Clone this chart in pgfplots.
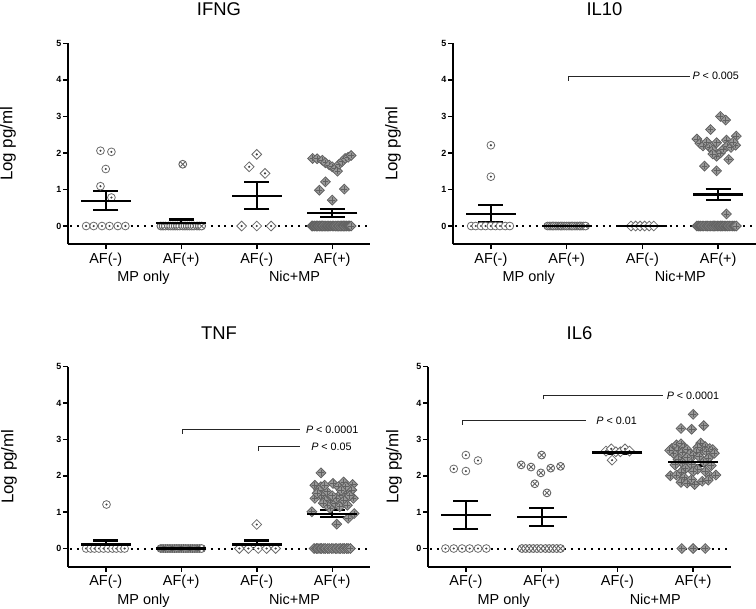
\documentclass[border=0pt]{standalone}
\usepackage{fontspec}
\setmainfont{Liberation Sans}
\usepackage{pgfplots}
\pgfplotsset{compat=1.18}

\definecolor{mk}{gray}{0.42}
\definecolor{mkfill}{gray}{0.6}
\definecolor{dotc}{gray}{0.25}

\pgfdeclareplotmark{cdot}{%
 \pgfpathcircle{\pgfpointorigin}{\pgfplotmarksize}\pgfusepathqfillstroke
 \begin{pgfscope}\pgfsetfillcolor{dotc}\pgfpathcircle{\pgfpointorigin}{0.3\pgfplotmarksize}\pgfusepathqfill\end{pgfscope}}
\pgfdeclareplotmark{cx}{%
 \pgfpathcircle{\pgfpointorigin}{\pgfplotmarksize}\pgfusepathqfillstroke
 \pgfpathmoveto{\pgfpoint{-0.6\pgfplotmarksize}{-0.6\pgfplotmarksize}}\pgfpathlineto{\pgfpoint{0.6\pgfplotmarksize}{0.6\pgfplotmarksize}}%
 \pgfpathmoveto{\pgfpoint{-0.6\pgfplotmarksize}{0.6\pgfplotmarksize}}\pgfpathlineto{\pgfpoint{0.6\pgfplotmarksize}{-0.6\pgfplotmarksize}}%
 \pgfusepathqstroke}
\pgfdeclareplotmark{ddot}{%
 \pgfpathmoveto{\pgfpoint{0pt}{\pgfplotmarksize}}\pgfpathlineto{\pgfpoint{\pgfplotmarksize}{0pt}}%
 \pgfpathlineto{\pgfpoint{0pt}{-\pgfplotmarksize}}\pgfpathlineto{\pgfpoint{-\pgfplotmarksize}{0pt}}\pgfpathclose
 \pgfusepathqfillstroke
 \begin{pgfscope}\pgfsetfillcolor{dotc}\pgfpathcircle{\pgfpointorigin}{0.25\pgfplotmarksize}\pgfusepathqfill\end{pgfscope}}
\pgfdeclareplotmark{dplus}{%
 \pgfpathmoveto{\pgfpoint{0pt}{\pgfplotmarksize}}\pgfpathlineto{\pgfpoint{\pgfplotmarksize}{0pt}}%
 \pgfpathlineto{\pgfpoint{0pt}{-\pgfplotmarksize}}\pgfpathlineto{\pgfpoint{-\pgfplotmarksize}{0pt}}\pgfpathclose
 \pgfusepathqfillstroke
 \pgfpathmoveto{\pgfpoint{0pt}{0.6\pgfplotmarksize}}\pgfpathlineto{\pgfpoint{0pt}{-0.6\pgfplotmarksize}}%
 \pgfpathmoveto{\pgfpoint{0.6\pgfplotmarksize}{0pt}}\pgfpathlineto{\pgfpoint{-0.6\pgfplotmarksize}{0pt}}%
 \pgfusepathqstroke}

\pgfplotsset{
 panel/.style={
  scale only axis, xmin=-0.5, xmax=3.5, ymin=-0.5, ymax=5,
  axis x line*=bottom, axis y line*=left,
  axis line style={line width=2bp, -},
  xtick={0,1,2,3}, xticklabels={AF(-),AF(+),AF(-),AF(+)},
  ytick={0,1,2,3,4,5},
  tick align=outside, major tick length=5bp,
  tick style={line width=1.5bp, black},
  /pgf/number format/assume math mode=true,
  yticklabel style={font=\fontsize{9}{10}\selectfont\bfseries, inner sep=1.5bp},
  xticklabel style={font=\fontsize{14.5}{16}\selectfont},
  clip=false,
 },
 zline/.style={black, line width=2bp, dash pattern=on 2bp off 4.7bp, mark=none},
 g0/.style={only marks, mark=cdot, mark size=3.9bp, mark options={draw=mk, fill=white, line width=0.8bp, solid}},
 g1/.style={only marks, mark=cx, mark size=3.9bp, mark options={draw=black!62, fill=white, line width=0.9bp, solid}},
 g2/.style={only marks, mark=ddot, mark size=4.9bp, mark options={draw=mk, fill=white, line width=0.8bp, solid}},
 g3/.style={only marks, mark=dplus, mark size=4.9bp, mark options={draw=black!62, fill=mkfill, line width=0.8bp, solid}},
 msem/.style={only marks, mark=-, mark size=25bp, mark options={line width=2.2bp, black, solid}, black,
   error bars/.cd, y dir=both, y explicit, error mark=-,
   error bar style={line width=2.2bp, black},
   error mark options={rotate=90, mark size=12.5bp, line width=2.2bp, black}},
 pline/.style={black!85, line width=0.9bp, mark=none},
}
\tikzset{
 ttl/.style={font=\fontsize{18.5}{20}\selectfont},
 ylab/.style={font=\fontsize{17}{19}\selectfont, rotate=90},
 grp/.style={font=\fontsize{14.5}{16}\selectfont, anchor=base},
 ptxt/.style={font=\fontsize{10.8}{12}\selectfont, anchor=west, inner sep=0pt},
}

\begin{document}
\begin{tikzpicture}
\useasboundingbox (0,0) rectangle (756bp,609bp);

% ---------------- IFNG ----------------
\begin{axis}[panel, width=302bp, height=201bp, at={(68bp,364.7bp)}, anchor=south west]
\addplot[zline] coordinates {(-0.47,0) (3.5,0)};
\addplot[g0] coordinates {(-0.07,2.06) (0.075,2.03) (0,1.56) (-0.07,1.09) (0.075,0.78)
 (-0.26,0) (-0.16,0) (-0.05,0) (0.05,0) (0.16,0) (0.26,0)};
\addplot[g1] coordinates {(1.02,1.69) (0.73,0) (0.76,0) (0.79,0) (0.83,0) (0.86,0) (0.89,0) (0.92,0) (0.95,0) (0.98,0)
 (1.02,0) (1.05,0) (1.08,0) (1.11,0) (1.14,0) (1.17,0) (1.21,0) (1.24,0) (1.27,0)};
\addplot[g2] coordinates {(2.0,1.96) (1.90,1.62) (2.11,1.44) (1.80,0) (2.0,0) (2.19,0)};
\addplot[g3] coordinates {(2.74,1.85) (2.80,1.84) (2.87,1.80) (2.91,1.73) (2.96,1.67) (3.0,1.62) (3.04,1.57) (3.07,1.50)
 (3.09,1.69) (3.13,1.76) (3.17,1.85) (3.21,1.88) (3.25,1.93) (2.91,1.21) (2.83,0.98) (3.16,1.01) (3.0,0.71)
 (2.73,0) (2.74,0) (2.76,0) (2.77,0) (2.79,0) (2.80,0) (2.81,0) (2.83,0) (2.84,0) (2.86,0) (2.87,0) (2.88,0) (2.90,0)
 (2.91,0) (2.93,0) (2.94,0) (2.95,0) (2.97,0) (2.98,0) (3.00,0) (3.01,0) (3.02,0) (3.04,0) (3.05,0) (3.07,0) (3.08,0)
 (3.09,0) (3.11,0) (3.12,0) (3.14,0) (3.15,0) (3.16,0) (3.18,0) (3.19,0) (3.21,0) (3.22,0) (3.23,0) (3.25,0)};
\addplot[msem] coordinates {(0,0.69) +- (0,0.26) (1,0.09) +- (0,0.09) (2,0.83) +- (0,0.37) (3,0.35) +- (0,0.11)};
\node[ttl] at ([yshift=34bp]rel axis cs:0.5,1) {IFNG};
\node[ylab] at ([xshift=-60bp]rel axis cs:0,0.5) {Log pg/ml};
\node[grp] at ([yshift=-37.7bp]axis cs:0.5,-0.5) {MP only};
\node[grp] at ([yshift=-37.7bp]axis cs:2.5,-0.5) {Nic+MP};
\end{axis}

% ---------------- IL10 ----------------
\begin{axis}[panel, width=303bp, height=201bp, at={(453bp,364.7bp)}, anchor=south west]
\addplot[zline] coordinates {(-0.47,0) (3.5,0)};
\addplot[g0] coordinates {(0,2.21) (0,1.35) (-0.26,0) (-0.20,0) (-0.13,0) (-0.07,0) (0,0) (0.06,0) (0.12,0) (0.19,0) (0.25,0)};
\addplot[g1] coordinates {(0.75,0) (0.78,0) (0.81,0) (0.83,0) (0.86,0) (0.89,0) (0.92,0) (0.94,0) (0.97,0) (1.0,0)
 (1.03,0) (1.06,0) (1.08,0) (1.11,0) (1.14,0) (1.17,0) (1.19,0) (1.22,0) (1.25,0)};
\addplot[g2] coordinates {(1.85,0) (1.91,0) (1.97,0) (2.03,0) (2.09,0) (2.15,0)};
\addplot[g3] coordinates {(3.03,3.0) (3.10,2.9) (2.90,2.64) (2.72,2.38) (2.76,2.26) (2.80,2.19) (2.85,2.30) (2.89,2.15)
 (2.93,2.08) (2.98,2.28) (2.98,1.91) (3.03,2.0) (3.07,2.1) (3.11,2.35) (3.12,2.19) (3.17,2.15) (3.24,2.46) (3.23,2.21)
 (3.14,1.82) (2.82,1.64) (2.98,1.51) (3.11,0.33) (2.93,1.97) (3.20,2.30)
 (2.72,0) (2.74,0) (2.76,0) (2.77,0) (2.79,0) (2.81,0) (2.83,0) (2.85,0) (2.86,0) (2.88,0) (2.90,0) (2.92,0) (2.94,0)
 (2.95,0) (2.97,0) (2.99,0) (3.01,0) (3.03,0) (3.04,0) (3.06,0) (3.08,0) (3.10,0) (3.12,0) (3.13,0) (3.15,0) (3.17,0)
 (3.19,0) (3.21,0) (3.22,0) (3.24,0)};
\addplot[msem] coordinates {(0,0.335) +- (0,0.235) (1,0) +- (0,0) (2,0) +- (0,0) (3,0.86) +- (0,0.15)};
\addplot[pline] coordinates {(1.02,3.97) (1.02,4.10) (2.63,4.10)};
\node[ptxt] at (axis cs:2.66,4.10) {\textit{P} < 0.005};
\node[ttl] at ([yshift=34bp]rel axis cs:0.5,1) {IL10};
\node[ylab] at ([xshift=-60bp]rel axis cs:0,0.5) {Log pg/ml};
\node[grp] at ([yshift=-37.7bp]axis cs:0.5,-0.5) {MP only};
\node[grp] at ([yshift=-37.7bp]axis cs:2.5,-0.5) {Nic+MP};
\end{axis}

% ---------------- TNF ----------------
\begin{axis}[panel, width=302bp, height=200bp, at={(68bp,42.3bp)}, anchor=south west]
\addplot[zline] coordinates {(-0.47,0) (3.5,0)};
\addplot[g0] coordinates {(0.01,1.21) (-0.26,0) (-0.20,0) (-0.15,0) (-0.09,0) (-0.03,0) (0.03,0) (0.09,0) (0.14,0) (0.20,0) (0.25,0)};
\addplot[g1] coordinates {(0.73,0) (0.76,0) (0.79,0) (0.82,0) (0.85,0) (0.88,0) (0.91,0) (0.94,0) (0.97,0) (1.0,0)
 (1.03,0) (1.06,0) (1.09,0) (1.12,0) (1.15,0) (1.18,0) (1.21,0) (1.24,0) (1.27,0)};
\addplot[g2] coordinates {(2.0,0.66) (1.77,0) (1.89,0) (2.02,0) (2.13,0) (2.25,0)};
\addplot[g3] coordinates {(2.85,2.08) (3.01,1.79) (3.15,1.83) (3.27,1.76) (2.77,1.74) (2.85,1.70) (2.93,1.56) (2.85,1.47)
 (2.77,1.38) (2.97,1.33) (3.04,1.24) (3.19,1.52) (3.26,1.61) (3.28,1.38) (3.15,1.33) (3.10,1.15) (2.97,1.10) (2.73,1.01)
 (3.29,0.96) (3.21,0.83) (3.06,0.67) (2.90,1.74) (3.08,1.70) (3.18,1.70) (2.82,1.61) (3.10,1.47) (2.90,1.33) (3.20,1.19)
 (2.93,1.19) (3.05,1.38) (2.80,1.52) (3.23,1.45) (3.0,1.45) (2.88,1.25) (3.12,1.60)
 (2.76,0) (2.79,0) (2.81,0) (2.84,0) (2.86,0) (2.89,0) (2.91,0) (2.94,0) (2.96,0) (2.99,0) (3.01,0) (3.04,0) (3.06,0)
 (3.09,0) (3.11,0) (3.14,0) (3.16,0) (3.19,0) (3.21,0) (3.24,0)};
\addplot[msem] coordinates {(0,0.11) +- (0,0.11) (1,0) +- (0,0) (2,0.11) +- (0,0.11) (3,0.96) +- (0,0.10)};
\addplot[pline] coordinates {(1.02,3.15) (1.02,3.27) (2.57,3.27)};
\node[ptxt] at (axis cs:2.65,3.27) {\textit{P} < 0.0001};
\addplot[pline] coordinates {(2.02,2.68) (2.02,2.80) (2.57,2.80)};
\node[ptxt] at (axis cs:2.72,2.80) {\textit{P} < 0.05};
\node[ttl] at ([yshift=34bp]rel axis cs:0.5,1) {TNF};
\node[ylab] at ([xshift=-59bp]rel axis cs:0,0.5) {Log pg/ml};
\node[grp] at ([yshift=-37.7bp]axis cs:0.5,-0.5) {MP only};
\node[grp] at ([yshift=-37.7bp]axis cs:2.5,-0.5) {Nic+MP};
\end{axis}

% ---------------- IL6 ----------------
\begin{axis}[panel, width=303bp, height=200bp, at={(428bp,42.3bp)}, anchor=south west]
\addplot[zline] coordinates {(-0.47,0) (3.5,0)};
\addplot[g0] coordinates {(0,2.57) (0.16,2.42) (-0.16,2.19) (0.0,2.13) (-0.27,0) (-0.16,0) (-0.05,0) (0.05,0) (0.16,0) (0.27,0)};
\addplot[g1] coordinates {(1.0,2.57) (0.73,2.30) (0.86,2.24) (0.99,2.08) (1.12,2.21) (1.25,2.26) (0.91,1.78) (1.07,1.53)
 (0.74,0) (0.79,0) (0.84,0) (0.89,0) (0.94,0) (0.99,0) (1.05,0) (1.10,0) (1.15,0) (1.20,0) (1.25,0)};
\addplot[g2] coordinates {(1.85,2.68) (1.92,2.74) (1.98,2.66) (2.04,2.66) (2.10,2.74) (2.16,2.68) (1.93,2.43)};
\addplot[g3] coordinates {(3.0,3.69) (2.84,3.30) (2.98,3.28) (3.14,3.38)
 (2.72,2.75) (2.78,2.85) (2.84,2.88) (2.80,2.70) (2.74,2.62) (2.88,2.78) (2.86,2.65) (2.92,2.72) (2.69,2.70)
 (3.10,2.90) (3.16,2.80) (3.22,2.75) (3.12,2.70) (3.18,2.66) (3.26,2.72) (3.06,2.78) (3.04,2.65) (3.28,2.62)
 (2.96,2.60) (3.0,2.55) (2.92,2.50) (3.08,2.52) (2.80,2.45) (3.20,2.48) (2.86,2.35) (3.14,2.38) (2.98,2.30)
 (2.76,2.30) (3.24,2.28) (2.90,2.20) (3.06,2.18) (3.00,2.12) (2.84,2.10) (3.16,2.12)
 (2.70,2.00) (2.78,2.02) (2.88,1.95) (3.22,2.0) (3.30,2.02) (2.84,1.82) (2.92,1.80) (3.02,1.76) (3.12,1.85)
 (3.20,1.88) (2.98,1.90)
 (2.85,0) (3.0,0) (3.16,0)};
\addplot[msem] coordinates {(0,0.92) +- (0,0.385) (1,0.87) +- (0,0.25) (2,2.64) +- (0,0.03) (3,2.39) +- (0,0.105)};
\addplot[pline] coordinates {(1.02,4.10) (1.02,4.21) (2.60,4.21)};
\node[ptxt] at (axis cs:2.65,4.21) {\textit{P} < 0.0001};
\addplot[pline] coordinates {(-0.05,3.40) (-0.05,3.52) (1.59,3.52)};
\node[ptxt] at (axis cs:1.72,3.52) {\textit{P} < 0.01};
\node[ttl] at ([yshift=34bp]rel axis cs:0.5,1) {IL6};
\node[ylab] at ([xshift=-34bp]rel axis cs:0,0.5) {Log pg/ml};
\node[grp] at ([yshift=-37.7bp]axis cs:0.5,-0.5) {MP only};
\node[grp] at ([yshift=-37.7bp]axis cs:2.5,-0.5) {Nic+MP};
\end{axis}
\end{tikzpicture}
\end{document}
